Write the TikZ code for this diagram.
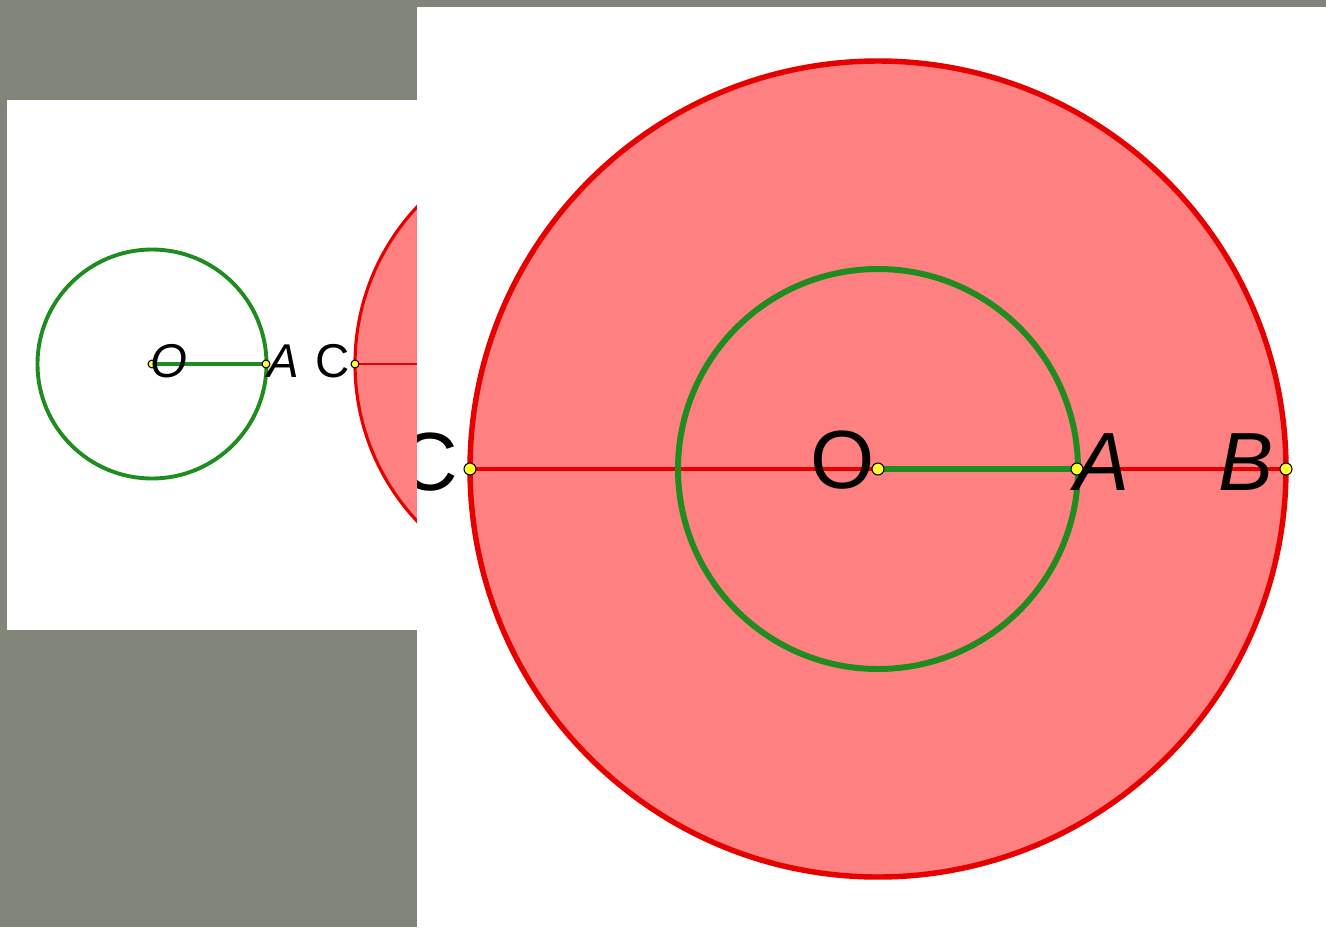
\documentclass[tikz,border=0pt]{standalone}
\usepackage{fontspec}
\setmainfont{Liberation Sans}
\usepackage{xcolor}
\definecolor{slate}{HTML}{82857A}
\definecolor{discfill}{HTML}{FF8080}
\definecolor{discline}{HTML}{E60000}
\definecolor{ringgreen}{HTML}{1E8C1E}
\definecolor{dotyellow}{HTML}{FFFF33}
\usetikzlibrary{positioning}

\begin{document}
\begin{tikzpicture}[x=0.02cm, y=-0.02cm,
    dot/.style={circle, fill=dotyellow, draw=black, line width=0.6pt, inner sep=0pt, minimum size=#1},
    dot/.default=4.5pt,
    disc/.style={fill=discfill, draw=discline, line width=#1},
    disc/.default=1.8pt,
    ring/.style={draw=ringgreen, line width=#1},
    ring/.default=2.2pt,
    smalllbl/.style={inner sep=0pt, font=\fontsize{27}{30}\selectfont},
    biglbl/.style={inner sep=0pt, font=\fontsize{47}{50}\selectfont}]
  \useasboundingbox (0,0) rectangle (1326,927);
  \fill[slate] (0,0) rectangle (1326,927);
  % small panel
  \fill[white] (7,100) rectangle (417,630);
  \begin{scope}
    \clip (7,100) rectangle (417,630);
    \coordinate (sO) at (152,364);
    \coordinate (sA) at (266,364);
    \coordinate (sC) at (355,364);
    \coordinate (sD) at (585,364);
    \path[disc] (sD) circle[radius=230];
    \draw[discline, line width=1.6pt] (sC) -- (sD);
    \draw[ring] (sO) circle[radius=114.5];
    \draw[ring] (sO) -- (sA);
    \node[dot] (sOdot) at (sO) {};
    \node[dot] (sAdot) at (sA) {};
    \node[dot] (sCdot) at (sC) {};
    \node[smalllbl] (sOlbl) at (169,361) {\itshape O};
    \node[smalllbl] (sAlbl) at (283,361) {\itshape A};
    \node[smalllbl] (sClbl) at (333,361) {C};
  \end{scope}
  % big panel
  \fill[white] (417,7) rectangle (1326,927);
  \begin{scope}
    \clip (417,7) rectangle (1326,927);
    \coordinate (bO) at (878,469);
    \coordinate (bA) at (1077,469);
    \coordinate (bB) at (1286,469);
    \coordinate (bC) at (470,469);
    \path[disc=3.1pt] (bO) circle[radius=408];
    \draw[discline, line width=2.8pt] (bC) -- (bB);
    \draw[ring=3.4pt] (bO) circle[radius=200];
    \draw[ring=3.4pt] (bO) -- (bA);
    \node[dot=6.8pt] (bOdot) at (bO) {};
    \node[dot=6.8pt] (bAdot) at (bA) {};
    \node[dot=6.8pt] (bBdot) at (bB) {};
    \node[dot=6.8pt] (bCdot) at (bC) {};
    \node[biglbl] (bOlbl) at (843,460) {O};
    \node[biglbl] (bAlbl) at (1102,462) {\itshape A};
    \node[biglbl] (bBlbl) at (1246,462) {\itshape B};
    \node[biglbl] (bClbl) at (428,462) {C};
  \end{scope}
\end{tikzpicture}
\end{document}
